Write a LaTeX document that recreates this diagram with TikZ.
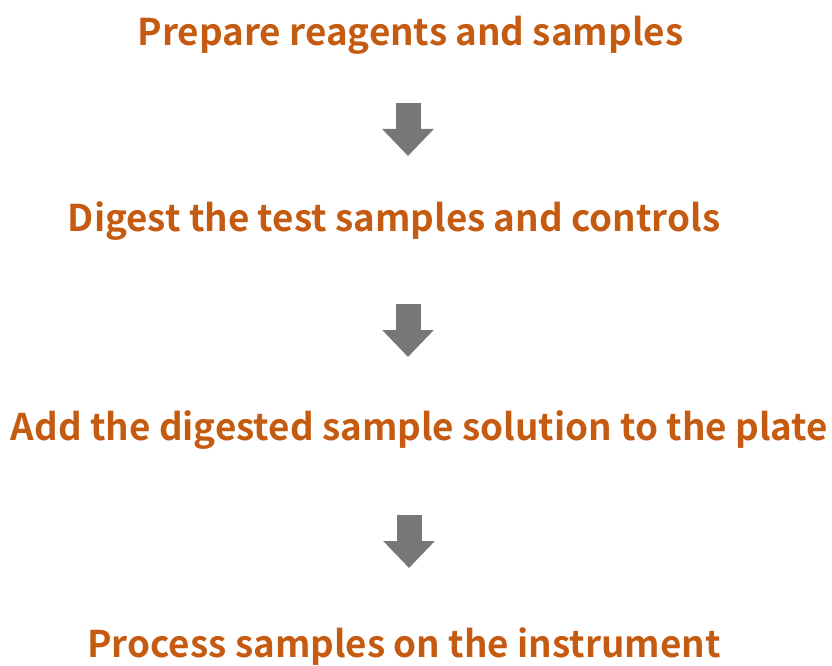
\documentclass[tikz,border=0pt]{standalone}
\usepackage{fontspec}
\setmainfont{Noto Sans CJK SC}[BoldFont={Noto Sans CJK SC Bold}]
\usetikzlibrary{arrows.meta}
\definecolor{stepcolor}{HTML}{C55A11}
\definecolor{arrowgray}{HTML}{777777}

\begin{document}
\begin{tikzpicture}[x=1pt,y=-1pt,
	stepnode/.style={anchor=base,inner sep=0pt,text=stepcolor,font=\fontsize{36.8}{40}\selectfont\bfseries},
	blockarrow/.style={draw=none,arrowgray,line width=25pt,-{Triangle[length=27pt,width=50pt]}}]
	\useasboundingbox (0,0) rectangle (832,666);
	\node [stepnode] (prep) at (410.5,46) {Prepare reagents and samples};
	\node [stepnode] (digest) at (394,231) {Digest the test samples and controls};
	\node [stepnode] (add) at (419.5,440) {Add the digested sample solution to the plate};
	\node [stepnode] (proc) at (404,657) {Process samples on the instrument};
	\coordinate (a1) at (408,103);
	\coordinate (b1) at (408,156);
	\coordinate (a2) at (408,304);
	\coordinate (b2) at (408,357);
	\coordinate (a3) at (409,515);
	\coordinate (b3) at (409,568);
	\draw [blockarrow,draw=arrowgray] (a1) -- (b1);
	\draw [blockarrow,draw=arrowgray] (a2) -- (b2);
	\draw [blockarrow,draw=arrowgray] (a3) -- (b3);
\end{tikzpicture}
\end{document}
